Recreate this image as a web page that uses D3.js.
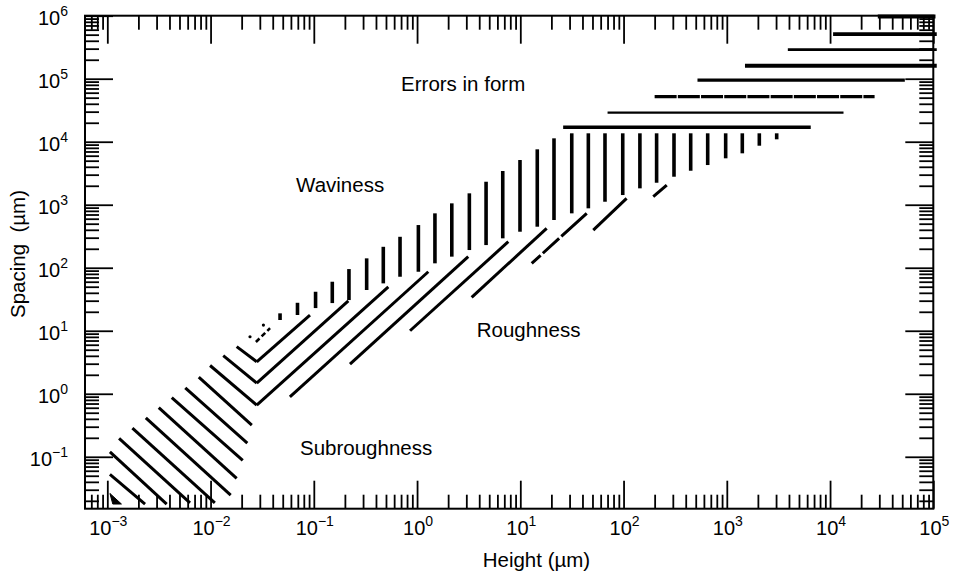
<!DOCTYPE html>
<html>
<head>
<meta charset="utf-8">
<script src="https://cdn.jsdelivr.net/npm/d3@7"></script>
<style>
  body { margin: 0; background: #fff; }
  svg { display: block; font-family: "Liberation Sans", Arial, Helvetica, sans-serif; }
</style>
</head>
<body>
<svg id="chart" width="953" height="576"></svg>
<script>
// Decade exponents labelled on each axis
const xDecades = [-3, -2, -1, 0, 1, 2, 3, 4, 5];
const yDecades = [-1, 0, 1, 2, 3, 4, 5, 6];

// Errors in form: horizontal bands (spacing, height from, height to)
const formSpacing    = [9.7e5, 5.1e5, 2.9e5, 1.6e5, 9.5e4, 5.2e4, 2.9e4, 1.7e4];
const formHeightFrom = [2.9e4, 1.07e4, 3.9e3, 1.5e3, 520, 200, 70, 26];
const formHeightTo   = [1.05e5, 1.08e5, 1.08e5, 1.08e5, 5.3e4, 2.7e4, 1.35e4, 6.5e3];

// Waviness: vertical hatching (height, spacing at top, spacing at bottom)
const waveHeight = [0.0471, 0.0695, 0.104, 0.151, 0.219, 0.325, 0.471, 0.684, 1.03, 1.49,
                    2.17, 3.21, 4.66, 6.76, 9.93, 14.6, 21.2, 31.5, 45.6, 66.1,
                    98.2, 144, 209, 308, 447, 653, 975, 1413, 2065, 3042];
const waveTop    = [18.9, 27.8, 41.6, 60, 95.3, 141, 215, 310, 476, 730,
                    1052, 1517, 2318, 3428, 5124, 7575, 11320, 13600, 13600, 13600,
                    13600, 13600, 13600, 13600, 13600, 13600, 13600, 13600, 13600, 13600];
const waveBottom = [14.8, 17.8, 22.9, 27.5, 30.7, 44.3, 56.5, 72, 86.4, 117.5,
                    150, 191, 229, 293, 373, 448, 572, 730, 877, 1116,
                    1425, 1820, 2234, 2783, 3464, 4266, 5454, 6546, 8643, 10920];

// Roughness: rising hatching (start height/spacing, end height/spacing)
const roughH0 = [0.0280, 0.0280, 0.0280, 0.0587, 0.224, 0.855, 3.38, 12.9, 50.9, 194];
const roughS0 = [3.22, 1.48, 0.662, 0.896, 2.96, 10, 33.9, 117.5, 396, 1340];
const roughH1 = [0.0918, 0.216, 0.527, 1.285, 3.13, 7.65, 18.0, 44.0, 107, 262];
const roughS1 = [17.7, 29.9, 49.9, 86.4, 150, 259, 422, 730, 1264, 2055];

// Subroughness: falling hatching (start height/spacing, end height/spacing)
const subH0 = [0.00106, 0.00106, 0.0013, 0.00175, 0.00236, 0.00315, 0.00421, 0.00569, 0.00769, 0.00989, 0.01327, 0.0179];
const subS0 = [0.0526, 0.120, 0.196, 0.286, 0.416, 0.604, 0.865, 1.245, 1.84, 2.81, 4.04, 5.61];
const subH1 = [0.00232, 0.00376, 0.00632, 0.0110, 0.01567, 0.0179, 0.0205, 0.0227, 0.0251, 0.0280, 0.0280, 0.0280];
const subS1 = [0.01775, 0.01775, 0.0186, 0.0186, 0.0247, 0.0454, 0.0877, 0.165, 0.318, 0.662, 1.48, 3.22];

// Broken fragments at the tip of the roughness band
const fragH = [0.0275, 0.0377];
const fragS = [6.62, 11.0];
const dotH = [0.0241, 0.0325];
const dotS = [8.03, 12.3];

// Arrowhead at the foot of the subroughness band
const arrowH = [0.00106, 0.00113, 0.00137];
const arrowS = [0.0262, 0.0178, 0.0178];

// Region names and where they sit (height, spacing of text start/baseline)
const regionNames = ["Errors in form", "Waviness", "Roughness", "Subroughness"];
const regionH = [0.70, 0.0673, 3.78, 0.0735];
const regionS = [6.38e4, 1608, 8.03, 0.106];

// ---- layout ----
const plotLeft = 85, plotRight = 933.3, plotTop = 15.7, plotBottom = 508.7;

const svg = d3.select("#chart");

const x = d3.scaleLog().domain([6.08e-4, 1e5]).range([plotLeft, plotRight]);
const y = d3.scaleLog().domain([0.015, 1e6]).range([plotBottom, plotTop]);

const isMajor = v => Math.abs(Math.log10(v) - Math.round(Math.log10(v))) < 1e-9;
const xMinor = x.ticks().filter(v => !isMajor(v));
const yMinor = y.ticks().filter(v => !isMajor(v));
const xMajor = xDecades.map(e => Math.pow(10, e));
const yMajor = yDecades.map(e => Math.pow(10, e));

const MINOR = 14, MAJOR = 28;

function styleAxis(g) {
  g.select(".domain").remove();
  g.selectAll(".tick line").attr("stroke", "#000").attr("stroke-width", 1.8);
  g.selectAll(".tick text").remove();
}

// ticks point inward on all four sides
const axes = [
  [d3.axisBottom, x, `translate(0,${plotBottom})`, xMinor, xMajor],
  [d3.axisTop, x, `translate(0,${plotTop})`, xMinor, xMajor],
  [d3.axisLeft, y, `translate(${plotLeft},0)`, yMinor, yMajor],
  [d3.axisRight, y, `translate(${plotRight},0)`, yMinor, yMajor]
];
axes.forEach(([mk, sc, tr, minor, major]) => {
  svg.append("g").attr("transform", tr)
    .call(mk(sc).tickValues(minor).tickSize(-MINOR).tickSizeOuter(0).tickFormat(""))
    .call(styleAxis);
  svg.append("g").attr("transform", tr)
    .call(mk(sc).tickValues(major).tickSize(-MAJOR).tickSizeOuter(0).tickFormat(""))
    .call(styleAxis);
});

// frame
svg.append("rect")
  .attr("x", plotLeft).attr("y", plotTop)
  .attr("width", plotRight - plotLeft).attr("height", plotBottom - plotTop)
  .attr("fill", "none").attr("stroke", "#000").attr("stroke-width", 2);

// power-of-ten labels
function powerLabel(sel, e) {
  sel.append("tspan").text("10");
  sel.append("tspan").attr("dy", -9).attr("font-size", 14)
    .text(e < 0 ? "\u2212" + Math.abs(e) : String(e));
}
xDecades.forEach(e => {
  svg.append("text")
    .attr("x", x(Math.pow(10, e)) + 1).attr("y", plotBottom + 26.5)
    .attr("text-anchor", "middle").attr("font-size", 20).attr("fill", "#000")
    .call(powerLabel, e);
});
yDecades.forEach(e => {
  svg.append("text")
    .attr("x", plotLeft - 17).attr("y", y(Math.pow(10, e)) + 9.3)
    .attr("text-anchor", "end").attr("font-size", 20).attr("fill", "#000")
    .call(powerLabel, e);
});

// axis titles
svg.append("text")
  .attr("x", 482.7).attr("y", 567.3)
  .attr("font-size", 20.5).attr("fill", "#000")
  .text("Height (\u00b5m)");
svg.append("text")
  .attr("transform", "translate(25,318) rotate(-90)")
  .attr("font-size", 20.5).attr("fill", "#000")
  .attr("xml:space", "preserve")
  .text("Spacing  (\u00b5m)");

const marks = svg.append("g").attr("stroke", "#000").attr("fill", "none");

// Errors in form (the 200 µm band shows tiny breaks)
const formWidth = [4, 3.6, 2.6, 4, 3.2, 3.2, 2.2, 3.4];
const formDash = [null, null, null, null, null, "22,1.2", null, null];
formSpacing.forEach((s, i) => {
  marks.append("line")
    .attr("x1", x(formHeightFrom[i])).attr("x2", x(formHeightTo[i]))
    .attr("y1", y(s)).attr("y2", y(s))
    .attr("stroke-width", formWidth[i])
    .attr("stroke-dasharray", formDash[i]);
});

// Waviness
waveHeight.forEach((h, i) => {
  marks.append("line")
    .attr("x1", x(h)).attr("x2", x(h))
    .attr("y1", y(waveTop[i])).attr("y2", y(waveBottom[i]))
    .attr("stroke-width", 3.6);
});

// Roughness (one line is broken into dashes)
const roughDash = [null, null, null, null, null, null, null, "12,3,22,3,40", null, null];
roughH0.forEach((h, i) => {
  marks.append("line")
    .attr("x1", x(h)).attr("y1", y(roughS0[i]))
    .attr("x2", x(roughH1[i])).attr("y2", y(roughS1[i]))
    .attr("stroke-width", 3)
    .attr("stroke-dasharray", roughDash[i]);
});

// Subroughness
subH0.forEach((h, i) => {
  marks.append("line")
    .attr("x1", x(h)).attr("y1", y(subS0[i]))
    .attr("x2", x(subH1[i])).attr("y2", y(subS1[i]))
    .attr("stroke-width", 3);
});

// fragments and arrowhead
marks.append("line")
  .attr("x1", x(fragH[0])).attr("y1", y(fragS[0]))
  .attr("x2", x(fragH[1])).attr("y2", y(fragS[1]))
  .attr("stroke-width", 2.6).attr("stroke-dasharray", "5,3");
dotH.forEach((h, i) => {
  marks.append("circle").attr("cx", x(h)).attr("cy", y(dotS[i])).attr("r", 1.6)
    .attr("fill", "#000").attr("stroke", "none");
});
marks.append("path")
  .attr("d", d3.line()(arrowH.map((h, i) => [x(h), y(arrowS[i])])) + "Z")
  .attr("fill", "#000").attr("stroke-width", 1);

// region names
regionNames.forEach((n, i) => {
  svg.append("text")
    .attr("x", x(regionH[i])).attr("y", y(regionS[i]))
    .attr("font-size", 20.5).attr("fill", "#000")
    .text(n);
});
</script>
</body>
</html>
